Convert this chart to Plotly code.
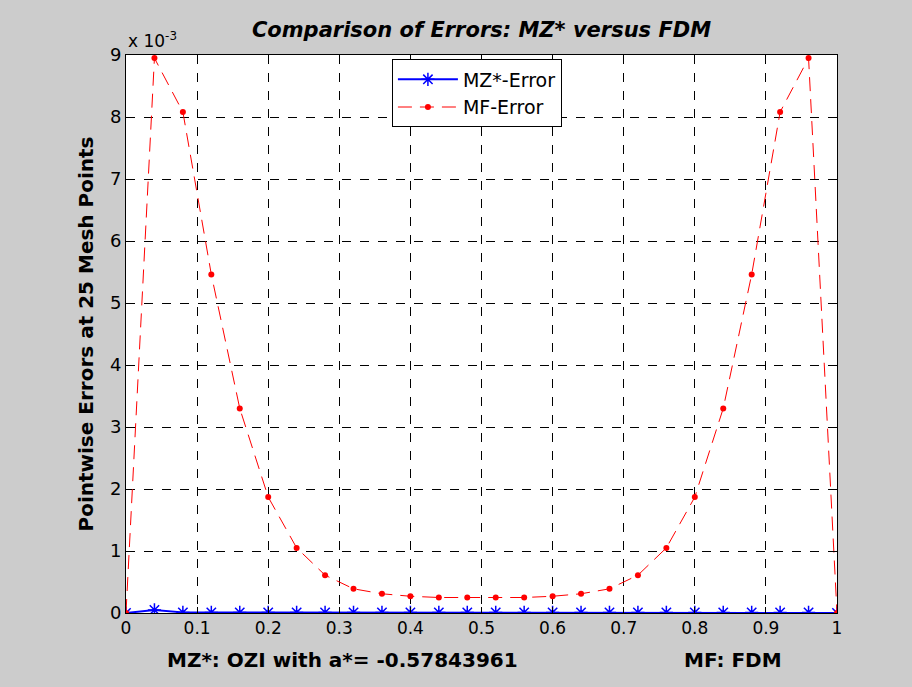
import plotly.graph_objects as go

x_vals = [0.00, 0.04, 0.08, 0.12, 0.16, 0.20, 0.24, 0.28, 0.32, 0.36, 0.40, 0.44, 0.48,
          0.52, 0.56, 0.60, 0.64, 0.68, 0.72, 0.76, 0.80, 0.84, 0.88, 0.92, 0.96, 1.00]
mf_error = [0.0, 8.95, 8.08, 5.46, 3.30, 1.87, 1.05, 0.61, 0.39, 0.31, 0.27, 0.25, 0.25,
            0.25, 0.25, 0.27, 0.31, 0.39, 0.61, 1.05, 1.87, 3.30, 5.46, 8.08, 8.95, 0.0]
mz_error = [0.0, 0.05, 0.01, 0.01, 0.01, 0.01, 0.01, 0.01, 0.01, 0.01, 0.01, 0.01, 0.01,
            0.01, 0.01, 0.01, 0.01, 0.01, 0.01, 0.01, 0.01, 0.01, 0.01, 0.01, 0.01, 0.0]
scale = 1e-3
x_ticks = [0, 0.1, 0.2, 0.3, 0.4, 0.5, 0.6, 0.7, 0.8, 0.9, 1]
x_ticktext = ["0", "0.1", "0.2", "0.3", "0.4", "0.5", "0.6", "0.7", "0.8", "0.9", "1"]
y_ticks = [0, 1, 2, 3, 4, 5, 6, 7, 8, 9]

font_family = "DejaVu Sans, Liberation Sans, sans-serif"

fig = go.Figure()
fig.add_trace(go.Scatter(
    x=x_vals, y=[v * scale for v in mz_error], name="MZ*-Error",
    mode="lines+markers",
    line=dict(color="#0000ff", width=2),
    marker=dict(symbol="asterisk-open", size=11, color="#0000ff",
                line=dict(color="#0000ff", width=1.5)),
))
fig.add_trace(go.Scatter(
    x=x_vals, y=[v * scale for v in mf_error], name="MF-Error",
    mode="lines+markers",
    line=dict(color="#ff0000", width=1, dash="14px,8px"),
    marker=dict(symbol="circle", size=6, color="#ff0000"),
))

fig.update_layout(
    width=912, height=687,
    paper_bgcolor="#cccccc", plot_bgcolor="#ffffff",
    margin=dict(l=126, r=75, t=55, b=74),
    font=dict(family=font_family, size=17, color="#000000"),
    title=dict(text="<b><i>Comparison of Errors: MZ* versus FDM</i></b>",
               x=(126 + 711 / 2) / 912, xanchor="center", y=1 - 30 / 687, yanchor="middle",
               font=dict(family=font_family, size=21, color="#000000")),
    showlegend=True,
    legend=dict(x=0.374, y=0.992, xanchor="left", yanchor="top",
                bgcolor="#ffffff", bordercolor="#000000", borderwidth=1,
                font=dict(family=font_family, size=19, color="#000000"),
                itemwidth=60, tracegroupgap=4),
    xaxis=dict(range=[0, 1], tickvals=x_ticks, ticktext=x_ticktext,
               showgrid=True, gridcolor="#000000", griddash="dash", gridwidth=1,
               showline=True, linecolor="#000000", linewidth=1, mirror="ticks",
               ticks="inside", ticklen=6, tickcolor="#000000", zeroline=False,
               tickfont=dict(size=17)),
    yaxis=dict(range=[0, 9 * scale], tickvals=[t * scale for t in y_ticks],
               ticktext=[str(t) for t in y_ticks],
               showgrid=True, gridcolor="#000000", griddash="dash", gridwidth=1,
               showline=True, linecolor="#000000", linewidth=1, mirror="ticks",
               ticks="inside", ticklen=6, tickcolor="#000000", zeroline=False,
               tickfont=dict(size=18),
               title=dict(text="<b>Pointwise Errors at 25 Mesh Points</b>",
                          font=dict(size=20), standoff=10)),
)

fig.add_annotation(text="x 10<sup>-3</sup>", xref="paper", yref="paper",
                   x=0.0, y=1.0, xanchor="left", yanchor="bottom", yshift=2,
                   showarrow=False, font=dict(size=17))
fig.add_annotation(text="<b>MZ*: OZI with a*= -0.57843961</b>", xref="paper", yref="paper",
                   x=(342 - 126) / 711, y=0, yshift=-47, xanchor="center", yanchor="middle",
                   showarrow=False, font=dict(size=20))
fig.add_annotation(text="<b>MF: FDM</b>", xref="paper", yref="paper",
                   x=(733 - 126) / 711, y=0, yshift=-47, xanchor="center", yanchor="middle",
                   showarrow=False, font=dict(size=20))

fig.write_html("out.html")
